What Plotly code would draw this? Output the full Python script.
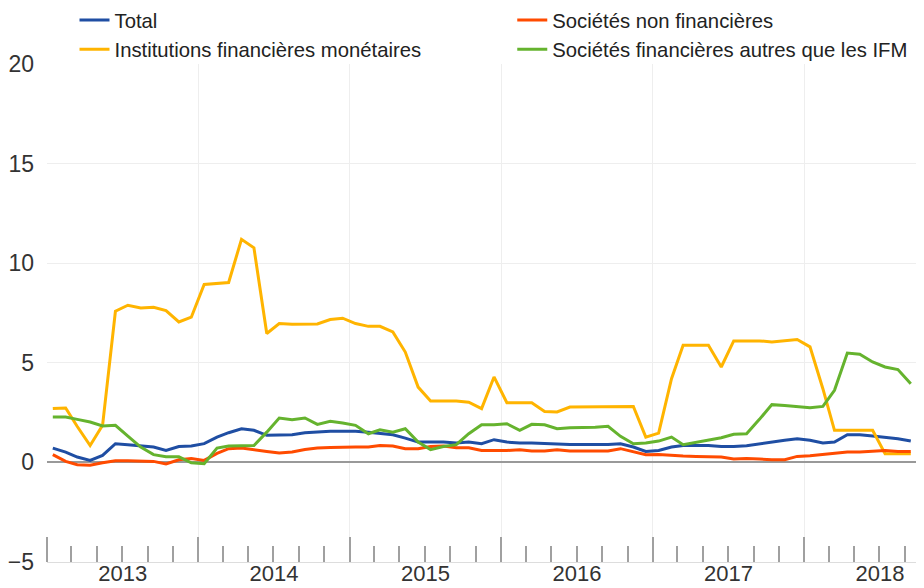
import pandas as pd
import plotly.graph_objects as go

# Monthly observations, Jan 2013 - Sep 2018
months = pd.date_range("2013-01-01", "2018-09-01", freq="MS") + pd.Timedelta(days=14)

total = [0.72, 0.52, 0.27, 0.10, 0.35, 0.94, 0.89, 0.82, 0.77, 0.60, 0.80, 0.82,
         0.94, 1.27, 1.49, 1.69, 1.61, 1.36, 1.36, 1.39, 1.49, 1.52, 1.57, 1.56,
         1.56, 1.51, 1.47, 1.39, 1.22, 1.02, 1.02, 1.02, 0.97, 1.02, 0.94, 1.14,
         1.02, 0.97, 0.97, 0.94, 0.94, 0.90, 0.90, 0.90, 0.90, 0.94, 0.77, 0.55,
         0.60, 0.77, 0.85, 0.85, 0.85, 0.80, 0.80, 0.84, 0.94, 1.02, 1.11, 1.19,
         1.11, 0.97, 1.02, 1.39, 1.39, 1.32, 1.27, 1.19, 1.07]

snf = [0.39, 0.05, -0.12, -0.14, -0.02, 0.08, 0.08, 0.07, 0.05, -0.08, 0.13, 0.20,
       0.10, 0.45, 0.69, 0.72, 0.65, 0.55, 0.47, 0.52, 0.65, 0.72, 0.75, 0.77,
       0.77, 0.77, 0.85, 0.82, 0.69, 0.69, 0.80, 0.82, 0.74, 0.74, 0.60, 0.60,
       0.60, 0.64, 0.57, 0.57, 0.64, 0.57, 0.57, 0.57, 0.57, 0.69, 0.52, 0.39,
       0.40, 0.35, 0.32, 0.30, 0.27, 0.27, 0.17, 0.20, 0.17, 0.13, 0.13, 0.30,
       0.34, 0.40, 0.44, 0.52, 0.52, 0.55, 0.60, 0.55, 0.55]

ifm = [2.70, 2.73, 1.80, 0.85, 1.86, 7.59, 7.89, 7.75, 7.79, 7.62, 7.05, 7.29,
       8.93, 9.00, 9.03, 11.20, 10.77, 6.47, 6.97, 6.93, 6.93, 6.95, 7.17, 7.24,
       6.97, 6.83, 6.83, 6.55, 5.54, 3.78, 3.08, 3.08, 3.08, 3.02, 2.70, 4.29,
       3.00, 3.00, 3.00, 2.56, 2.53, 2.78, 2.78, 2.78, 2.78, 2.81, 2.81, 1.27,
       1.47, 4.20, 5.88, 5.88, 5.88, 4.79, 6.10, 6.10, 6.10, 6.05, 6.13, 6.17,
       5.80, 3.70, 1.61, 1.61, 1.61, 1.61, 0.44, 0.44, 0.44]

sfai = [2.28, 2.28, 2.16, 2.03, 1.83, 1.86, 1.32, 0.77, 0.39, 0.28, 0.28, -0.02,
        -0.07, 0.72, 0.82, 0.82, 0.85, 1.52, 2.23, 2.14, 2.23, 1.91, 2.06, 1.98,
        1.86, 1.44, 1.64, 1.52, 1.69, 1.02, 0.64, 0.80, 0.89, 1.44, 1.89, 1.89,
        1.94, 1.61, 1.91, 1.89, 1.69, 1.74, 1.74, 1.77, 1.81, 1.31, 0.94, 0.97,
        1.07, 1.27, 0.89, 1.02, 1.11, 1.24, 1.41, 1.44, 2.16, 2.90, 2.86, 2.81,
        2.75, 2.81, 3.62, 5.49, 5.43, 5.04, 4.79, 4.66, 3.95]

names = ["Total", "Institutions financières monétaires",
         "Sociétés non financières", "Sociétés financières autres que les IFM"]
colors = ["#1f4ea3", "#ffb400", "#ff4b00", "#65b32e"]
series = [total, ifm, snf, sfai]
legends = ["legend", "legend", "legend2", "legend2"]

fig = go.Figure()
for name, col, vals, lg in zip(names, colors, series, legends):
    fig.add_trace(go.Scatter(x=months, y=vals, name=name, mode="lines",
                             line=dict(color=col, width=3), legend=lg))

legend_common = dict(orientation="v", xref="container", yref="paper",
                     yanchor="top", xanchor="left", bgcolor="rgba(0,0,0,0)",
                     font=dict(size=20.3, color="#222222"), traceorder="normal")
fig.update_layout(
    width=916, height=580,
    margin=dict(l=39, r=7, t=56, b=26, autoexpand=False),
    plot_bgcolor="white", paper_bgcolor="white",
    font=dict(family="Liberation Sans, Arial, sans-serif", color="#333333"),
    legend=dict(x=0.0726, y=1.128, **legend_common),
    legend2=dict(x=0.5505, y=1.128, **legend_common),
)
fig.update_xaxes(
    range=["2013-01-01", "2018-09-30"],
    tick0="2013-01-01", dtick="M12", tickformat="%Y", ticklabelmode="period",
    tickangle=0, ticklabelstandoff=-8,
    ticks="inside", ticklen=25, tickwidth=1.5, tickcolor="#a0a0a0",
    showgrid=True, gridcolor="#eeeeee", gridwidth=1,
    showline=True, linecolor="#dddddd", linewidth=1,
    tickfont=dict(size=22, color="#333333"),
    minor=dict(dtick="M2", ticks="inside", ticklen=16, tickwidth=1.5,
               tickcolor="#a0a0a0", showgrid=False),
)
fig.update_yaxes(
    range=[-5, 20], dtick=5, tick0=0,
    showgrid=True, gridcolor="#eeeeee", gridwidth=1,
    zeroline=True, zerolinecolor="#999999", zerolinewidth=2,
    showline=False, ticks="", ticklabelstandoff=12,
    tickfont=dict(size=23, color="#333333"),
)
fig.write_html("out.html")
